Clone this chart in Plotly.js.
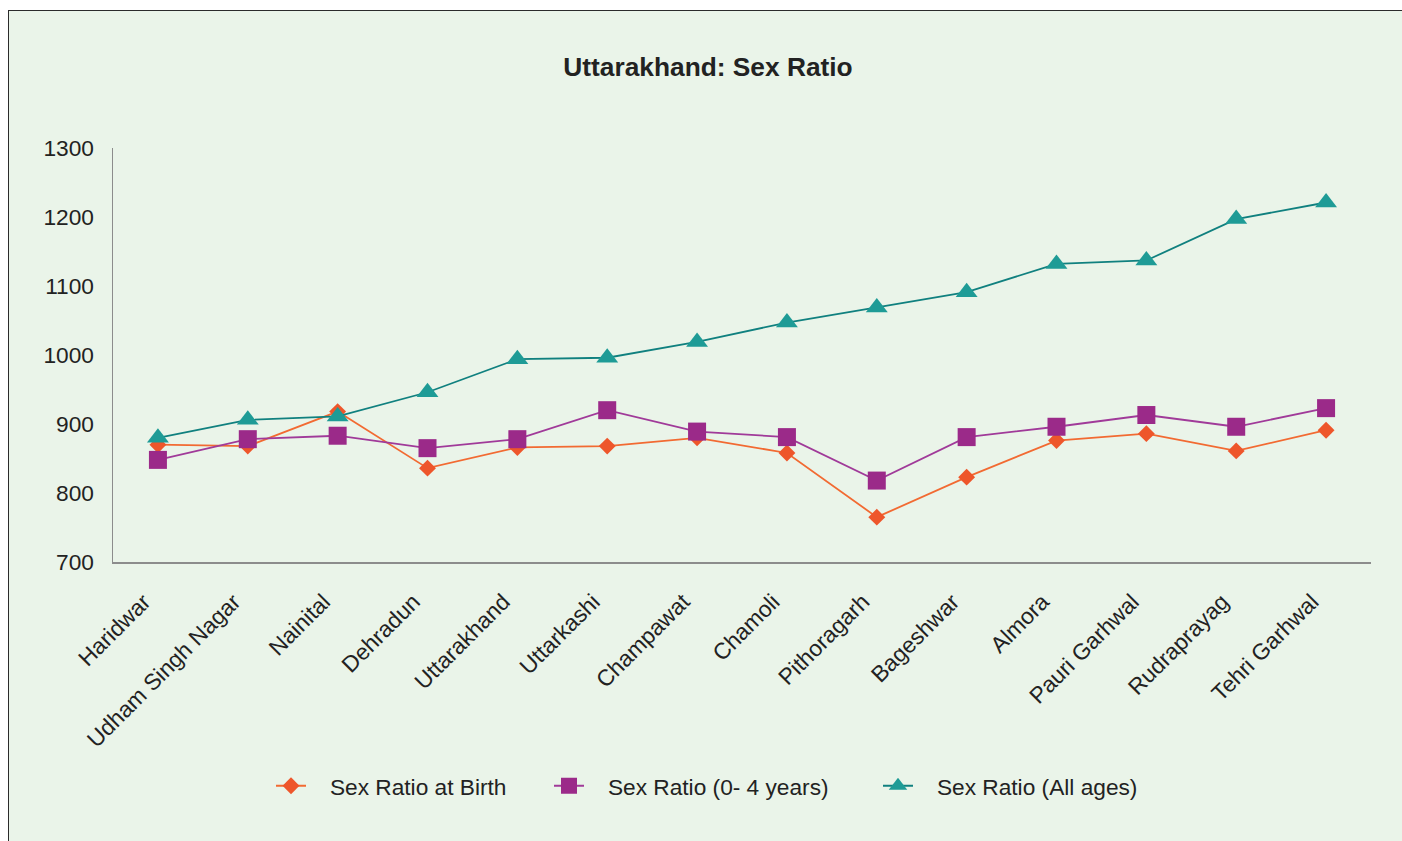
<!DOCTYPE html>
<html>
<head>
<meta charset="utf-8">
<script src="https://cdn.plot.ly/plotly-3.0.1.min.js"></script>
<style>
html,body{margin:0;padding:0;background:#ffffff;width:1402px;height:841px;overflow:hidden;}
#frame{position:absolute;left:8px;top:10px;width:1420px;height:860px;border-left:1.5px solid #2b2b2b;border-top:1.5px solid #2b2b2b;background:#EAF4E9;}
#chart{position:absolute;left:0;top:0;width:1402px;height:841px;}
</style>
</head>
<body>
<div id="frame"></div>
<div id="chart"></div>
<script>
const districts = ['Haridwar','Udham Singh Nagar','Nainital','Dehradun','Uttarakhand','Uttarkashi','Champawat','Chamoli','Pithoragarh','Bageshwar','Almora','Pauri Garhwal','Rudraprayag','Tehri Garhwal'];
const sexRatioAtBirth = [870, 868, 918, 836, 866, 868, 880, 858, 765, 823, 876, 886, 861, 891];
const sexRatio0to4 = [848, 878, 883, 865, 878, 920, 889, 881, 818, 881, 896, 913, 896, 923];
const sexRatioAllAges = [880, 906, 911, 946, 994, 996, 1019, 1047, 1069, 1091, 1132, 1137, 1197, 1221];
const yTicks = [700, 800, 900, 1000, 1100, 1200, 1300];

const FONT = '"Liberation Sans", Arial, sans-serif';
const FS = 22.7;

// plot area in pixels: x 113..1371, y 148..562
const px = v => (v - 113) / 1258;
const py = v => (562 - v) / 414;

const traces = [
  {
    x: districts, y: sexRatioAtBirth, name: '\u00a0\u00a0\u00a0Sex Ratio at Birth',
    type: 'scatter', mode: 'lines+markers', legend: 'legend',
    line: {color: '#F26A32', width: 1.8},
    marker: {symbol: 'diamond', size: 13, color: '#EE562B'}
  },
  {
    x: districts, y: sexRatio0to4, name: '\u00a0\u00a0\u00a0Sex Ratio (0- 4 years)',
    type: 'scatter', mode: 'lines+markers', legend: 'legend2',
    line: {color: '#A03A99', width: 1.8},
    marker: {symbol: 'square', size: 18, color: '#9B2A89'}
  },
  {
    x: districts, y: sexRatioAllAges, name: '\u00a0\u00a0\u00a0Sex Ratio (All ages)',
    type: 'scatter', mode: 'lines+markers', legend: 'legend3',
    line: {color: '#10807F', width: 1.8},
    marker: {symbol: 'triangle-up', size: 19, color: '#1E9B96'}
  }
];

const legendBase = {
  orientation: 'h',
  xanchor: 'left',
  y: py(786), yanchor: 'middle',
  font: {family: FONT, size: FS, color: '#222222'},
  bgcolor: 'rgba(0,0,0,0)',
  borderwidth: 0
};

const layout = {
  width: 1402, height: 841,
  margin: {l: 113, r: 31, t: 148, b: 279},
  paper_bgcolor: 'rgba(0,0,0,0)',
  plot_bgcolor: 'rgba(0,0,0,0)',
  font: {family: FONT, size: FS, color: '#222222'},
  title: {
    text: '<b>Uttarakhand: Sex Ratio</b>',
    font: {family: FONT, size: 26.3, color: '#222222'},
    x: px(708), xanchor: 'center', xref: 'paper',
    y: 1 - 67/841, yanchor: 'middle', yref: 'container'
  },
  xaxis: {
    type: 'category',
    categoryarray: districts,
    tickangle: -45,
    showline: true, linecolor: '#8c8c8c', linewidth: 1.5,
    showgrid: false, zeroline: false,
    ticks: '',
    ticklabelstandoff: 16,
    ticklabelshift: -14,
    tickfont: {family: FONT, size: FS, color: '#222222'},
    range: [-0.5, districts.length - 0.5],
    fixedrange: true
  },
  yaxis: {
    range: [700, 1300],
    tickvals: yTicks,
    ticktext: yTicks.map(String),
    showline: true, linecolor: '#8c8c8c', linewidth: 1.5,
    showgrid: false, zeroline: false,
    ticks: '',
    ticklabelstandoff: 13,
    tickfont: {family: FONT, size: FS, color: '#222222'},
    fixedrange: true
  },
  showlegend: true,
  legend: Object.assign({}, legendBase, {x: px(271)}),
  legend2: Object.assign({}, legendBase, {x: px(549)}),
  legend3: Object.assign({}, legendBase, {x: px(878)})
};

Plotly.newPlot('chart', traces, layout, {displayModeBar: false, staticPlot: true});
</script>
</body>
</html>
